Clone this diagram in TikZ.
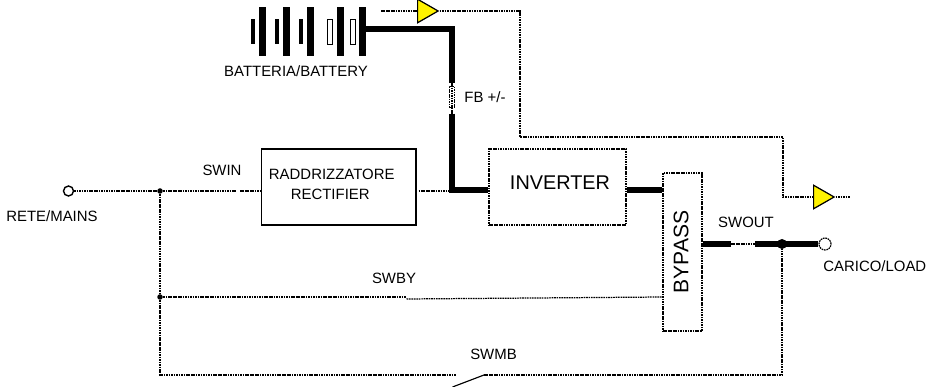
\documentclass[tikz,border=0pt]{standalone}
\usepackage{fontspec}
\setmainfont{Liberation Sans}
\usetikzlibrary{shapes.geometric}
\tikzset{
  txt/.style={font=\fontsize{8.5}{11.3}\selectfont,inner sep=0pt},
  bigtxt/.style={font=\fontsize{11.3}{12}\selectfont,inner sep=0pt},
  wire/.style={line width=.7pt,dash pattern=on .95pt off .45pt},
  bus/.style={line width=3.1pt},
  block/.style={draw,line width=.65pt,inner sep=0pt,align=center},
  dotblock/.style={block,wire},
  tallplate/.style={fill=black,inner sep=0pt,minimum width=.14cm,minimum height=.98cm},
  shortplate/.style={fill=black,inner sep=0pt,minimum width=.07cm,minimum height=.5cm},
  openplate/.style={draw,line width=.5pt,inner sep=0pt,minimum width=.1cm,minimum height=.5cm},
  dot/.style={circle,fill=black,inner sep=0pt,minimum size=.11cm},
  term/.style={circle,draw,line width=.8pt,fill=white,inner sep=0pt,minimum size=.2cm},
  amp/.style={isosceles triangle,isosceles triangle stretches,shape border rotate=0,draw,line width=.7pt,
    fill=yellow,inner sep=0pt,minimum width=.47cm,minimum height=.41cm,anchor=lower side}
}
\begin{document}
\begin{tikzpicture}
              \useasboundingbox (0,0) rectangle (18.52,-7.74);

              \node[term] (mains) at (1.37,-3.82) {};
              \node[txt] (mainslabel) [below of=mains, node distance=.5cm, xshift=-.33cm] {RETE/MAINS};
              \node[dot] (jin) [right of=mains, node distance=1.83cm] {};
              \node[dot] (jby) [below of=jin, node distance=2.12cm] {};
              \node[txt] (swinlabel) [right of=jin, node distance=1.24cm, yshift=.42cm] {SWIN};
              \node[coordinate] (swina) [right of=jin, node distance=1.52cm] {};
              \node[coordinate] (swinb) [right of=jin, node distance=1.6cm] {};

              \node[block, txt, minimum width=3.09cm, minimum height=1.52cm] (rect) [right of=jin, node distance=3.575cm, yshift=.08cm] {RADDRIZZATORE\hspace*{.28cm}\mbox{}\\RECTIFIER\hspace*{.34cm}\mbox{}\\[-11.6pt]\strut};
              \node[dotblock, bigtxt, minimum width=2.74cm, minimum height=1.52cm] (inv) [right of=rect, node distance=4.375cm] {\hspace*{.1cm}INVERTER\\[-10.6pt]\strut};
              \node[dotblock, bigtxt, font=\fontsize{12}{12}\selectfont, minimum width=.78cm, minimum height=3.16cm] (bypass) [right of=inv, node distance=2.5cm, yshift=-1.3cm] {\hspace*{-.03cm}\rotatebox{90}{BYPASS}\hspace*{.03cm}};

              \node[coordinate] (busa) [left of=inv, node distance=2.11cm, yshift=-.06cm] {};
              \node[coordinate] (busb) [above of=busa, node distance=3.22cm] {};
              \node[dotblock, minimum width=.11cm, minimum height=.42cm] (fuse) [below of=busb, node distance=1.36cm] {};
              \node[txt] (fuselabel) [right of=fuse, node distance=.66cm] {FB +/-};

              \node[tallplate] (tallA) at (5.24,-.63) {};
              \node[tallplate] (tallB) [right of=tallA, node distance=.48cm] {};
              \node[tallplate] (tallC) [right of=tallB, node distance=.48cm] {};
              \node[tallplate] (tallD) [right of=tallC, node distance=.6cm] {};
              \node[tallplate] (tallE) [right of=tallD, node distance=.44cm] {};
              \node[shortplate] (shortA) [left of=tallA, node distance=.18cm] {};
              \node[shortplate] (shortB) [left of=tallB, node distance=.18cm] {};
              \node[shortplate] (shortC) [left of=tallC, node distance=.18cm] {};
              \node[openplate] (shortD) [left of=tallD, node distance=.2cm] {};
              \node[openplate] (shortE) [left of=tallE, node distance=.18cm] {};
              \node[txt] (batlabel) [below of=tallC, node distance=.79cm, xshift=-.28cm] {BATTERIA/BATTERY};

              \node[amp] (ampa) at (8.34,-.22) {};
              \node[amp] (ampb) at (16.26,-3.94) {};
              \coordinate (ampain) at (7.62,-.22);
              \coordinate (ampbout) at (17,-3.94);
              \coordinate (fbka) at (10.4,-2.74);
              \coordinate (fbkb) at (15.66,-3.94);

              \node[dot, minimum size=.2cm] (jout) [right of=bypass, node distance=1.99cm, yshift=.16cm] {};
              \node[coordinate] (swouta) [left of=jout, node distance=1.02cm] {};
              \node[coordinate] (swoutb) [left of=jout, node distance=.54cm] {};
              \node[term, wire, minimum size=.24cm] (load) [right of=jout, node distance=.86cm] {};
              \node[txt] (swoutlabel) [left of=jout, node distance=.72cm, yshift=.44cm] {SWOUT};
              \node[txt, anchor=west] (loadlabel) at (16.46,-5.32) {CARICO/LOAD};

              \node[coordinate] (swbya) [right of=jby, node distance=4.93cm] {};
              \node[coordinate] (swbyb) [below of=swbya, node distance=.04cm] {};
              \node[txt] (swbylabel) [right of=jby, node distance=4.68cm, yshift=.38cm] {SWBY};

              \node[coordinate] (swmba) [below of=jby, node distance=1.56cm, xshift=5.92cm] {};
              \node[coordinate] (swmbb) [right of=swmba, node distance=.56cm] {};
              \node[coordinate] (swmbc) [below of=swmba, node distance=.24cm, xshift=-.07cm] {};
              \node[txt] (swmblabel) [right of=swmba, node distance=.75cm, yshift=.42cm] {SWMB};

              \path
              (mains) edge [wire] (jin)
              (jin) edge [wire] (swina)
                    edge [wire] (jby)
              (swinb) edge [wire] (swinb -| rect.west)
              (jin -| rect.east) edge [wire, shorten <=.04cm] (busa |- jin)
              (jby) edge [wire] (swbya)
              (swbyb) edge [wire] (jby -| bypass.west)
              (ampain) edge [wire] (ampa.lower side)
              (fuse.north) edge [wire, shorten <=-.06cm, shorten >=-.11cm] (fuse.south)
              (swouta) edge [wire] (swoutb)
              (swmbb) edge [line width=.65pt] (swmbc)
              (ampb.apex) edge [wire] (ampbout)
              ;

              \draw[wire] (ampa.apex) -| (fbka) -| (fbkb) -- (ampb.lower side);
              \draw[wire] (jby) |- (swmba);
              \draw[wire] (swmbb) -| (jout);

              \draw[bus] (tallE |- busb) -- (busb) -- ([yshift=.06cm]fuse.north);
              \draw[bus] ([yshift=-.11cm]fuse.south) -- (busa) -- (busa -| inv.west);
              \draw[bus] (busa -| inv.east) -- (busa -| bypass.west);
              \draw[bus] (swouta -| bypass.east) -- (swouta);
              \draw[bus] (swoutb) -- (load);
            \end{tikzpicture}
\end{document}
